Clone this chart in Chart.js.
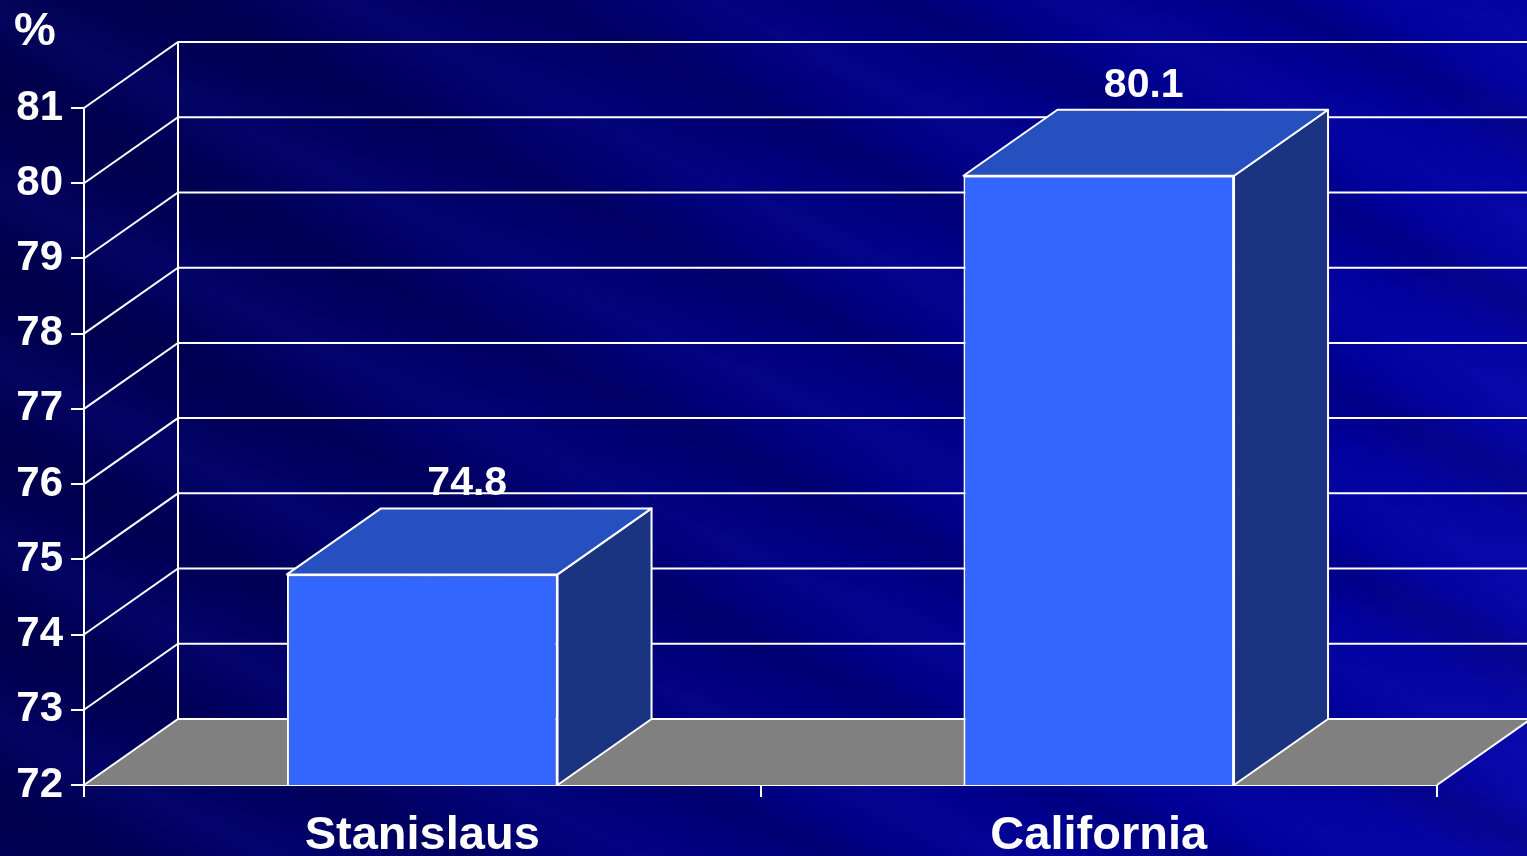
<!DOCTYPE html>
<html>
<head>
<meta charset="utf-8">
<script src="https://cdn.jsdelivr.net/npm/chart.js@4.4.1/dist/chart.umd.min.js"></script>
<style>
  html, body { margin: 0; padding: 0; }
  body {
    width: 1527px; height: 856px; overflow: hidden;
    background:
      repeating-linear-gradient(26deg, rgba(0,0,40,0) 0px, rgba(0,0,40,0.18) 45px, rgba(0,0,40,0) 80px, rgba(40,40,220,0.10) 120px, rgba(0,0,40,0) 160px),
      linear-gradient(100deg, #00004e 0%, #000068 30%, #000088 60%, #00009c 85%, #0808a8 100%);
  }
  #wrap { position: relative; width: 1527px; height: 856px; }
  #pct {
    position: absolute; left: 14px; top: 1px;
    font: bold 47px "Liberation Sans", Arial, sans-serif; color: #fff;
  }
</style>
</head>
<body>
<div id="wrap">
  <canvas id="rateChart"></canvas>
  <div id="pct">%</div>
</div>
<script>
// chart data
const categories = ['Stanislaus', 'California'];
const rates = [74.8, 80.1];
const yMin = 72;
const yMax = 81;

// 3d depth of the box, in pixels
const DX = 94, DY = 66;
const FONT = '"Liberation Sans", Arial, sans-serif';

function poly(ctx, pts) {
  ctx.beginPath();
  ctx.moveTo(pts[0][0], pts[0][1]);
  pts.slice(1).forEach(p => ctx.lineTo(p[0], p[1]));
  ctx.closePath();
  ctx.fill();
  ctx.stroke();
}

const depthPlugin = {
  id: 'depth',
  beforeDatasetsDraw(chart) {
    const { ctx, chartArea: a, scales: { y } } = chart;
    const y0 = y.getPixelForValue(yMin);
    ctx.save();
    ctx.strokeStyle = '#fff';
    ctx.lineWidth = 2;
    // floor
    ctx.fillStyle = '#808080';
    ctx.beginPath();
    ctx.moveTo(a.left, y0);
    ctx.lineTo(a.left + DX, y0 - DY);
    ctx.lineTo(a.right + DX, y0 - DY);
    ctx.lineTo(a.right, y0);
    ctx.closePath();
    ctx.fill();
    // back wall grid and the slanted side lines
    y.ticks.forEach(t => {
      const py = y.getPixelForValue(t.value);
      ctx.beginPath();
      ctx.moveTo(a.left, py);
      ctx.lineTo(a.left + DX, py - DY);
      ctx.lineTo(chart.width + 5, py - DY);
      ctx.stroke();
    });
    ctx.beginPath();
    ctx.moveTo(a.left + DX, a.top - DY);
    ctx.lineTo(a.left + DX, a.bottom - DY);
    ctx.stroke();
    ctx.beginPath();
    ctx.moveTo(a.right, y0);
    ctx.lineTo(a.right + DX, y0 - DY);
    ctx.stroke();
    ctx.restore();
  },
  afterDatasetsDraw(chart) {
    const { ctx, scales } = chart;
    const meta = chart.getDatasetMeta(0);
    const y0 = scales.y.getPixelForValue(yMin);
    ctx.save();
    ctx.strokeStyle = '#fff';
    ctx.lineWidth = 2;
    ctx.lineJoin = 'round';
    meta.data.forEach((bar, i) => {
      const { x, y, width } = bar.getProps(['x', 'y', 'width'], true);
      const l = x - width / 2, r = x + width / 2;
      ctx.fillStyle = '#1b3481';
      poly(ctx, [[r, y], [r + DX, y - DY], [r + DX, y0 - DY], [r, y0]]);
      ctx.fillStyle = '#2650c0';
      poly(ctx, [[l, y], [l + DX, y - DY], [r + DX, y - DY], [r, y]]);
      ctx.fillStyle = '#fff';
      ctx.font = 'bold 41px ' + FONT;
      ctx.textAlign = 'center';
      ctx.textBaseline = 'alphabetic';
      ctx.fillText(rates[i].toFixed(1), x + DX / 2 - 2, y - DY - 13);
    });
    ctx.restore();
  }
};

new Chart(document.getElementById('rateChart'), {
  type: 'bar',
  data: {
    labels: categories,
    datasets: [{
      data: rates,
      backgroundColor: '#3366ff',
      borderColor: '#ffffff',
      borderWidth: 2,
      categoryPercentage: 0.4,
      barPercentage: 1.0
    }]
  },
  options: {
    responsive: true,
    maintainAspectRatio: false,
    animation: false,
    layout: { padding: { top: 108, right: 90, left: 0, bottom: 0 } },
    plugins: { legend: { display: false }, tooltip: { enabled: false } },
    scales: {
      y: {
        min: yMin,
        max: yMax,
        ticks: { stepSize: 1, color: '#fff', font: { family: FONT, size: 42, weight: 'bold' }, padding: 8 },
        grid: { drawOnChartArea: false, drawTicks: true, tickLength: 13, color: '#fff', lineWidth: 2 },
        border: { display: true, color: '#fff', width: 2 },
        afterFit(s) { s.width = 84; }
      },
      x: {
        ticks: { color: '#fff', font: { family: FONT, size: 47, weight: 'bold' }, padding: 11 },
        grid: { offset: true, drawOnChartArea: false, drawTicks: true, tickLength: 12, color: '#fff', lineWidth: 2 },
        border: { display: true, color: '#fff', width: 2 },
        afterFit(s) { s.height = 71; }
      }
    }
  },
  plugins: [depthPlugin]
});
</script>
</body>
</html>
